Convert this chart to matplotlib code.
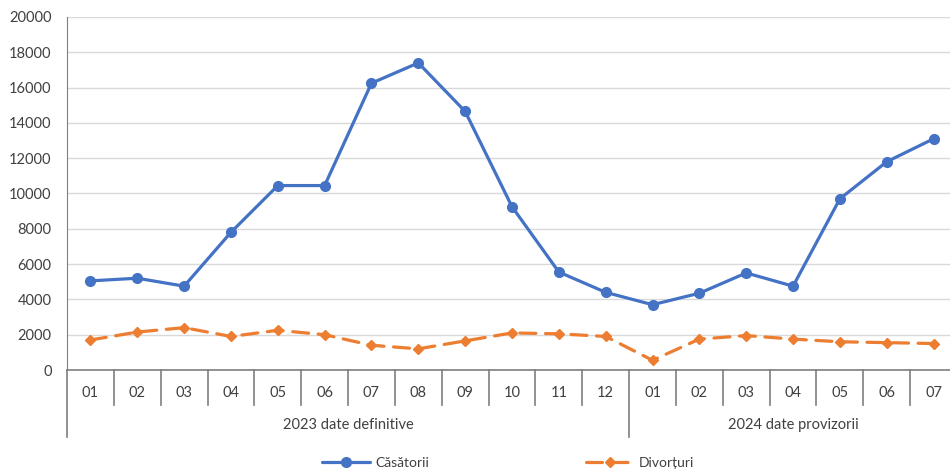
import numpy as np
import matplotlib
matplotlib.use("Agg")
import matplotlib.pyplot as plt
from matplotlib.transforms import blended_transform_factory

plt.rcParams['font.family'] = ['Lato', 'DejaVu Sans']

months = ["01", "02", "03", "04", "05", "06", "07", "08", "09", "10", "11", "12",
          "01", "02", "03", "04", "05", "06", "07"]
groups = ["2023 date definitive", "2024 date provizorii"]
group_sizes = [12, 7]

casatorii = [5050, 5200, 4750, 7800, 10450, 10450, 16250, 17400, 14650, 9250, 5550, 4400,
             3700, 4350, 5500, 4750, 9700, 11800, 13100]
divorturi = [1700, 2150, 2400, 1900, 2250, 2000, 1400, 1200, 1650, 2100, 2050, 1900,
             550, 1750, 1950, 1750, 1600, 1550, 1500]

blue = "#4472C4"
orange = "#ED7D31"
grid_col = "#D9D9D9"
axis_col = "#7F7F7F"
text_col = "#404040"
fs = 10.5

fig = plt.figure(figsize=(9.5, 4.72), dpi=100)
ax = fig.add_axes([67 / 950, 102 / 472, 890 / 950, 353 / 472])

x = np.arange(len(months))
ax.plot(x, casatorii, color=blue, lw=2.3, marker="o", markersize=7, label="Căsătorii",
        solid_capstyle="round")
ln, = ax.plot(x, divorturi, color=orange, lw=2.3, marker="D", markersize=5.5, label="Divorțuri",
              dash_capstyle="round")
ln.set_dashes([5, 3])

ax.set_xlim(-0.5, len(months) - 0.5)
ax.set_ylim(0, 20000)
ax.set_yticks(np.arange(0, 20001, 2000))
ax.tick_params(axis="y", length=0, pad=11, labelsize=fs, labelcolor=text_col)
ax.set_xticks([])
ax.grid(axis="y", color=grid_col, lw=1)
ax.set_axisbelow(True)
for s in ["top", "right", "bottom"]:
    ax.spines[s].set_visible(False)
ax.spines["left"].set_color(axis_col)
ax.spines["left"].set_bounds(0, 20000)
ax.axhline(0, color=axis_col, lw=1.2, clip_on=False)

# multi-level category axis
tr = blended_transform_factory(ax.transData, ax.transAxes)
sep1 = -35 / 353
sep2 = -67 / 353
group_edges = np.cumsum([0] + group_sizes) - 0.5
for i in range(len(months) + 1):
    xb = i - 0.5
    bottom = sep2 if np.any(np.isclose(group_edges[:-1], xb)) else sep1
    ax.plot([xb, xb], [0, bottom], color=axis_col, lw=1.2, transform=tr, clip_on=False)
for i, m in enumerate(months):
    ax.text(i, -23 / 353, m, transform=tr, ha="center", va="center", fontsize=fs,
            color=text_col)
for g, (a, b) in zip(groups, zip(group_edges[:-1], group_edges[1:])):
    ax.text((a + b) / 2, -55 / 353, g, transform=tr, ha="center", va="center",
            fontsize=fs, color=text_col)

fig.legend(loc="center", bbox_to_anchor=(0.535, 0.019), ncol=2, frameon=False,
           fontsize=10, handlelength=3.4, columnspacing=11.3, labelcolor=text_col,
           handletextpad=0.4)

fig.savefig("out.png", dpi=100)
